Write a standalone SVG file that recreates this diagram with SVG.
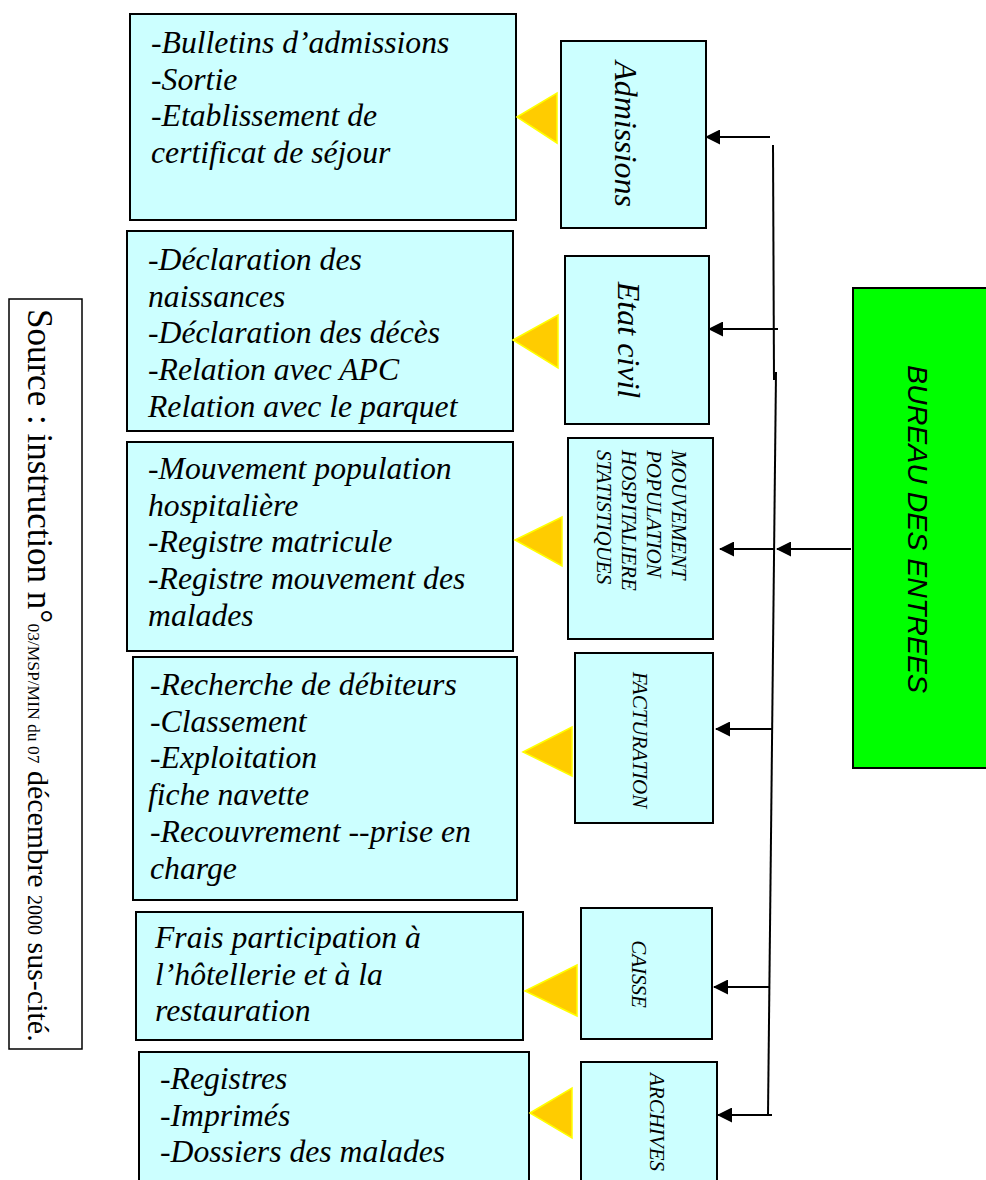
<svg xmlns="http://www.w3.org/2000/svg" width="986" height="1180" viewBox="0 0 986 1180">
<style>
.box{fill:#CCFFFF;stroke:#000;stroke-width:2}
.green{fill:#00FF00;stroke:#000;stroke-width:2}
.src{fill:#fff;stroke:#000;stroke-width:1.5}
.tri{fill:#FFCC00;stroke:#FFFF00;stroke-width:1.5}
.lst{font-family:"Liberation Serif","Times New Roman",serif;font-style:italic;font-size:31.7px;fill:#000}
.vt{font-family:"Liberation Serif","Times New Roman",serif;font-style:italic;font-size:32px;fill:#000}
.cap{font-family:"Liberation Serif","Times New Roman",serif;font-style:italic;font-size:21px;fill:#000}
.big{font-family:"Liberation Serif","Times New Roman",serif;font-size:35px;fill:#000}
.mid{font-size:30px}
.sm{font-size:17.5px}
.sm2{font-size:20px}
.bur{font-family:"Liberation Sans",Arial,sans-serif;font-style:italic;font-size:28.5px;fill:#000}
.ln{stroke:#000;stroke-width:2;fill:none}
.ar{stroke:#000;stroke-width:2;fill:none;marker-end:url(#ah)}
</style>
<defs>
<marker id="ah" markerUnits="userSpaceOnUse" markerWidth="15" markerHeight="15" refX="14" refY="7.5" orient="auto">
<path d="M0,0 L15,7.5 L0,15 z" fill="#000"/>
</marker>
</defs>

<g id="source">
<rect class="src" x="9" y="299" width="73" height="750"/>
<text class="big" transform="translate(28,309) rotate(90)">Source : instruction n°<tspan class="sm">03/MSP/MIN du 07</tspan><tspan class="mid"> décembre </tspan><tspan class="sm2">2000</tspan><tspan class="mid"> sus-cité.</tspan></text>
</g>

<g id="list-admissions">
<rect class="box" x="130" y="14" width="386" height="206"/>
<text class="lst" x="151" y="53">-Bulletins d’admissions</text>
<text class="lst" x="151" y="89.7">-Sortie</text>
<text class="lst" x="151" y="126.4">-Etablissement de</text>
<text class="lst" x="151" y="163.1">certificat de séjour</text>
</g>

<g id="list-etat-civil">
<rect class="box" x="127" y="231" width="386" height="200"/>
<text class="lst" x="148" y="270">-Déclaration des</text>
<text class="lst" x="148" y="306.7">naissances</text>
<text class="lst" x="148" y="343.4">-Déclaration des décès</text>
<text class="lst" x="148" y="380.1">-Relation avec APC</text>
<text class="lst" x="148" y="416.8">Relation avec le parquet</text>
</g>

<g id="list-mouvement">
<rect class="box" x="127" y="442" width="386" height="209"/>
<text class="lst" x="148" y="479">-Mouvement population</text>
<text class="lst" x="148" y="515.7">hospitalière</text>
<text class="lst" x="148" y="552.4">-Registre matricule</text>
<text class="lst" x="148" y="589.1">-Registre mouvement des</text>
<text class="lst" x="148" y="625.8">malades</text>
</g>

<g id="list-facturation">
<rect class="box" x="133" y="657" width="384" height="243"/>
<text class="lst" x="150" y="695">-Recherche de débiteurs</text>
<text class="lst" x="150" y="731.7">-Classement</text>
<text class="lst" x="150" y="768.4">-Exploitation</text>
<text class="lst" x="148" y="805.1">fiche navette</text>
<text class="lst" x="150" y="841.8">-Recouvrement --prise en</text>
<text class="lst" x="150" y="878.5">charge</text>
</g>

<g id="list-caisse">
<rect class="box" x="136" y="912" width="387" height="128"/>
<text class="lst" x="155" y="948">Frais participation à</text>
<text class="lst" x="155" y="984.7">l’hôtellerie et à la</text>
<text class="lst" x="155" y="1021.4">restauration</text>
</g>

<g id="list-archives">
<rect class="box" x="139" y="1052" width="390" height="160"/>
<text class="lst" x="160" y="1089">-Registres</text>
<text class="lst" x="160" y="1125.7">-Imprimés</text>
<text class="lst" x="160" y="1162.4">-Dossiers des malades</text>
</g>

<g id="triangles">
<polygon class="tri" points="517,117 557,93 557,143"/>
<polygon class="tri" points="513,340 558,315 558,368"/>
<polygon class="tri" points="515,540 562,517 562,566"/>
<polygon class="tri" points="523,752 572,727 572,776"/>
<polygon class="tri" points="525,991 577,965 577,1016"/>
<polygon class="tri" points="530,1113 572,1088 572,1138"/>
</g>

<g id="admissions">
<rect class="box" x="561" y="41" width="145" height="187"/>
<text class="vt" text-anchor="middle" transform="translate(615,134) rotate(90)">Admissions</text>
</g>

<g id="etat-civil">
<rect class="box" x="565" y="256" width="144" height="168"/>
<text class="vt" text-anchor="middle" transform="translate(618,340) rotate(90)">Etat civil</text>
</g>

<g id="mouvement">
<rect class="box" x="568" y="438" width="145" height="201"/>
<text class="cap" transform="translate(672,450) rotate(90)">MOUVEMENT</text>
<text class="cap" transform="translate(647,450) rotate(90)">POPULATION</text>
<text class="cap" transform="translate(622,450) rotate(90)">HOSPITALIERE</text>
<text class="cap" transform="translate(597,450) rotate(90)">STATISTIQUES</text>
</g>

<g id="facturation">
<rect class="box" x="575" y="653" width="138" height="170"/>
<text class="cap" text-anchor="middle" transform="translate(633,740) rotate(90)">FACTURATION</text>
</g>

<g id="caisse">
<rect class="box" x="581" y="908" width="131" height="131"/>
<text class="cap" text-anchor="middle" transform="translate(632,974) rotate(90)">CAISSE</text>
</g>

<g id="archives">
<rect class="box" x="581" y="1062" width="136" height="150"/>
<text class="cap" transform="translate(650,1073) rotate(90)">ARCHIVES</text>
</g>

<g id="bureau">
<rect class="green" x="853" y="288" width="140" height="480"/>
<text class="bur" text-anchor="middle" transform="translate(908,529) rotate(90)">BUREAU DES ENTREES</text>
</g>

<g id="connectors">
<line class="ln" x1="773" y1="145" x2="774" y2="380"/>
<line class="ln" x1="776" y1="372" x2="768" y2="1115"/>
<line class="ar" x1="770" y1="137" x2="706" y2="137"/>
<line class="ar" x1="778" y1="329" x2="709" y2="329"/>
<line class="ar" x1="774" y1="549" x2="720" y2="549"/>
<line class="ar" x1="851" y1="549" x2="777" y2="549"/>
<line class="ar" x1="772" y1="729" x2="716" y2="729"/>
<line class="ar" x1="769" y1="987" x2="714" y2="987"/>
<line class="ar" x1="772" y1="1115" x2="718" y2="1115"/>
</g>
</svg>
